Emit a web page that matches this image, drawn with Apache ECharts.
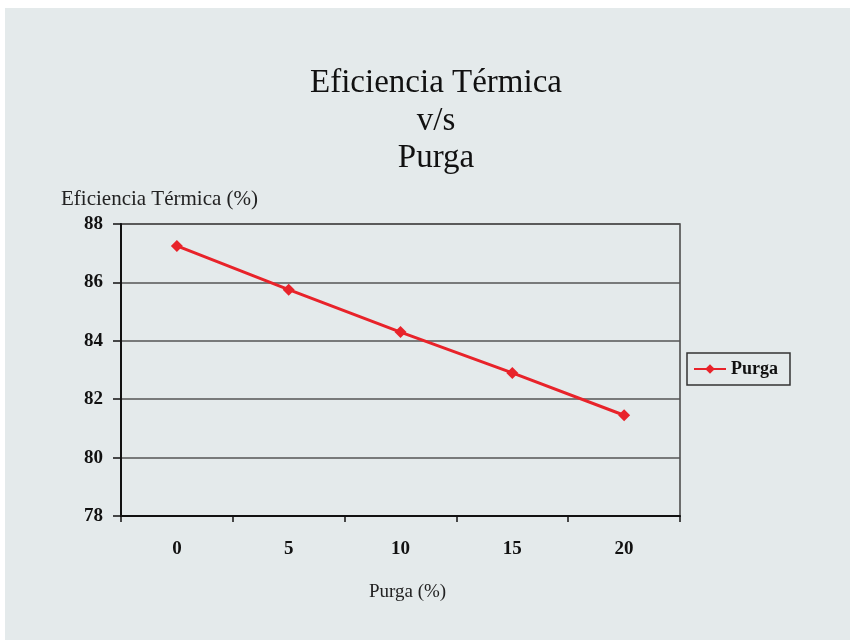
<!DOCTYPE html>
<html><head><meta charset="utf-8">
<script src="https://cdn.jsdelivr.net/npm/echarts@6/dist/echarts.min.js"></script>
<style>html,body{margin:0;padding:0;background:#fff}#c{width:850px;height:640px}</style>
</head><body><div id="c"></div>
<script>
const categories = ['0', '5', '10', '15', '20'];
const seriesName = 'Purga';
const values = [87.25, 85.75, 84.3, 82.9, 81.45];
const yTicks = [78, 80, 82, 84, 86, 88];

const serif = '"Liberation Serif", "DejaVu Serif", serif';
const chart = echarts.init(document.getElementById('c'));
chart.setOption({
  backgroundColor: '#ffffff',
  animation: false,
  graphic: [
    {type: 'rect', shape: {x: 5, y: 8, width: 845, height: 632}, style: {fill: '#e4eaeb'}, z: -10, silent: true},
    {type: 'text', x: 61, y: 199, style: {text: 'Eficiencia Térmica (%)', font: '21px ' + serif, fill: '#222', verticalAlign: 'middle'}, z: 10}
  ],
  title: {
    text: 'Eficiencia Térmica\nv/s\nPurga',
    left: 431, textAlign: 'center', top: 60,
    textStyle: {fontFamily: serif, fontSize: 33, fontWeight: 'normal', color: '#111', lineHeight: 37.5}
  },
  legend: {
    data: [seriesName],
    left: 687, top: 353,
    orient: 'vertical',
    padding: [7, 12, 7, 6],
    borderColor: '#333', borderWidth: 1.5,
    backgroundColor: '#e4eaeb',
    itemWidth: 32, itemHeight: 12, itemGap: 4,
    textStyle: {fontFamily: serif, fontSize: 18, fontWeight: 'bold', color: '#111'}
  },
  grid: {left: 121, right: 170, top: 224, bottom: 124, show: true, borderColor: '#444', borderWidth: 1.5, backgroundColor: 'transparent'},
  xAxis: {
    type: 'category', data: categories, boundaryGap: true,
    name: 'Purga (%)', nameLocation: 'middle', nameGap: 67,
    nameTextStyle: {fontFamily: serif, fontSize: 19, color: '#222', padding: [0, 0, 0, 14]},
    axisLine: {lineStyle: {color: '#111', width: 2}},
    axisTick: {show: true, inside: false, length: 6, alignWithLabel: false, lineStyle: {color: '#111', width: 1.5}},
    axisLabel: {fontFamily: serif, fontSize: 19, fontWeight: 'bold', color: '#111', margin: 24}
  },
  yAxis: {
    type: 'value', min: 78, max: 88, interval: 2,
    axisLine: {show: true, lineStyle: {color: '#111', width: 2}},
    axisTick: {show: true, length: 8, lineStyle: {color: '#111', width: 1.5}},
    axisLabel: {fontFamily: serif, fontSize: 19, fontWeight: 'bold', color: '#111', margin: 18},
    splitLine: {show: true, lineStyle: {color: '#555', width: 1.6}}
  },
  series: [{
    name: seriesName, type: 'line', data: values,
    symbol: 'diamond', symbolSize: 12,
    lineStyle: {color: '#e8232a', width: 3},
    itemStyle: {color: '#e8232a'}
  }]
});
</script></body></html>
